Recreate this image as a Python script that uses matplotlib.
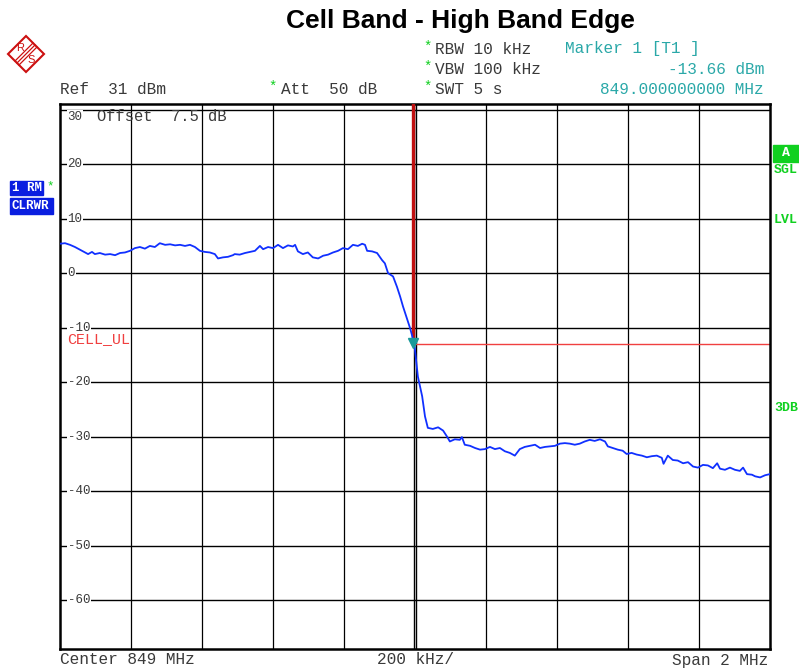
import numpy as np
import matplotlib.pyplot as plt
import matplotlib.patches as patches
from matplotlib.lines import Line2D

W, H = 799, 668

# sweep settings
center_mhz = 849.0
span_mhz = 2.0
ref_dbm = 31
range_db = 100
limit_dbm = -13.0
marker_mhz = 849.0
marker_dbm = -13.66

# trace: offset from start frequency (kHz) and level (dBm)
trace_khz = [0, 15, 29, 43, 57, 71, 80, 91, 99, 113, 128, 142, 156, 170, 184, 198,
             212, 226, 240, 254, 268, 282, 297, 311, 325, 339, 353, 367, 381, 395,
             409, 423, 437, 446, 460, 474, 488, 493, 507, 522, 536, 550, 564, 573,
             587, 601, 615, 629, 643, 657, 663, 671, 685, 699, 713, 728, 742, 756,
             770, 784, 798, 812, 826, 840, 852, 860, 866, 880, 894, 908, 916, 925,
             939, 950, 959, 967, 978, 987, 992, 1000, 1009, 1021, 1029, 1037, 1051,
             1066, 1080, 1091, 1099, 1113, 1127, 1133, 1141, 1156, 1170, 1184, 1198,
             1212, 1226, 1240, 1254, 1268, 1282, 1296, 1310, 1324, 1339, 1353, 1367,
             1381, 1395, 1409, 1423, 1437, 1451, 1465, 1479, 1493, 1507, 1522, 1536,
             1544, 1558, 1572, 1586, 1597, 1611, 1625, 1640, 1654, 1668, 1682, 1696,
             1701, 1713, 1727, 1741, 1756, 1770, 1784, 1798, 1812, 1826, 1840, 1852,
             1860, 1874, 1888, 1902, 1916, 1925, 1936, 1950, 1959, 1973, 1987, 2000]
trace_dbm = [5.4, 5.5, 5.2, 4.8, 4.3, 3.8, 3.5, 3.9, 3.5, 3.7, 3.4, 3.5, 3.3, 3.7,
             3.8, 4.1, 4.6, 4.8, 4.5, 5.0, 4.8, 5.5, 5.2, 5.3, 5.1, 5.2, 5.0, 5.2,
             4.8, 4.1, 3.9, 3.8, 3.5, 2.7, 2.9, 3.0, 3.3, 3.5, 3.4, 3.7, 3.9, 4.1,
             5.0, 4.4, 4.8, 4.6, 5.2, 4.6, 5.1, 4.9, 5.2, 4.0, 3.5, 3.8, 2.9, 2.7,
             3.2, 3.4, 3.8, 4.1, 4.6, 4.4, 5.2, 5.0, 5.4, 5.2, 4.1, 4.0, 3.7, 2.4,
             1.8, 0.0, -0.6, -2.5, -4.3, -6.1, -8.3, -10.1, -11.3, -13.66, -19.0,
             -22.6, -26.3, -28.4, -28.6, -28.3, -28.9, -30.0, -30.9, -30.5, -30.6,
             -30.1, -31.5, -31.7, -32.1, -32.4, -32.3, -31.9, -32.3, -32.1, -32.7,
             -33.0, -33.5, -32.3, -31.9, -31.7, -31.5, -32.1, -31.9, -31.8, -31.7,
             -31.3, -31.2, -31.3, -31.5, -31.3, -30.9, -30.6, -30.8, -30.5, -30.9,
             -31.8, -32.1, -32.4, -32.6, -33.2, -33.0, -33.3, -33.5, -33.8, -33.6,
             -33.5, -33.9, -35.0, -33.5, -34.3, -34.4, -34.9, -34.7, -35.5, -35.7,
             -35.2, -35.3, -35.8, -34.9, -35.9, -36.1, -35.7, -36.1, -36.3, -35.7,
             -36.9, -37.0, -37.3, -37.5, -37.1, -36.9]

ytick_vals = [30, 20, 10, 0, -10, -20, -30, -40, -50, -60]

f_start = center_mhz - span_mhz / 2
f_stop = center_mhz + span_mhz / 2
freq = f_start + np.array(trace_khz) / 1000.0

mono = "Liberation Mono"
teal = "#2aa8a8"
green = "#10d020"
grey = "#3a3a3a"
red = "#cc1010"


def px(x, y):
    return x / W, 1 - y / H


fig = plt.figure(figsize=(W / 100, H / 100), dpi=100)
fig.patch.set_facecolor("white")

l, r, t, b = 59.7, 769.7, 104.3, 649.0
ax = fig.add_axes([l / W, 1 - b / H, (r - l) / W, (b - t) / H])
ax.set_xlim(f_start, f_stop)
ax.set_ylim(ref_dbm - range_db, ref_dbm)
ax.set_xticks([])
ax.set_yticks([])
for s in ax.spines.values():
    s.set_linewidth(1.8)
    s.set_color("black")

# graticule
for v in ytick_vals:
    ax.axhline(v, color="black", lw=1.0, zorder=1)
for i in range(1, 10):
    f = f_start + i * span_mhz / 10
    if i == 5:
        ax.axvline(f - 0.002, color="black", lw=1.0, zorder=1)
        ax.axvline(f + 0.003, color="black", lw=1.0, zorder=1)
    else:
        ax.axvline(f, color="black", lw=0.9, zorder=1)

# level labels sit on the grid lines (top one just under it)
for v in ytick_vals:
    yv = v - 1.3 if v == 30 else v
    ax.text(f_start + 0.022, yv, "%d" % v, family=mono, fontsize=9, color=grey,
            va="center", ha="left", zorder=3,
            bbox=dict(facecolor="white", edgecolor="none", pad=0.4))
ax.text(f_start + 0.105, 28.7, "Offset  7.5 dB", family=mono, fontsize=11.2,
        color=grey, va="center", ha="left", zorder=3)

# limit line and marker
ax.plot([marker_mhz, f_stop], [limit_dbm, limit_dbm], color="#f04040", lw=1.0, zorder=2)
ax.text(f_start + 0.02, -12.1, "CELL_UL", family=mono, fontsize=10.8,
        color="#f04040", va="center", ha="left", zorder=3)
ax.plot([marker_mhz - 0.004, marker_mhz - 0.004], [ref_dbm, -12.4],
        color="#c01010", lw=2.4, zorder=4)

ax.plot(freq, trace_dbm, color="#1030ff", lw=1.3, zorder=5)
ax.plot([marker_mhz - 0.004], [marker_dbm + 0.9], marker="v", color="#1a9a9a",
        markersize=7, zorder=6)

# title
fig.text(*px(460, 21), "Cell Band - High Band Edge", family="Liberation Sans",
         fontweight="bold", fontsize=19, ha="center", va="center")

# header settings
hdr = dict(family=mono, fontsize=11.6, va="center", ha="left", color=grey)
fig.text(*px(60, 89), "Ref  31 dBm", **hdr)
fig.text(*px(281, 89), "Att  50 dB", **hdr)
fig.text(*px(435, 49), "RBW 10 kHz", **hdr)
fig.text(*px(435, 69), "VBW 100 kHz", **hdr)
fig.text(*px(435, 89), "SWT 5 s", **hdr)
for xs, ys in [(273, 87), (428, 47), (428, 67), (428, 87)]:
    fig.text(*px(xs, ys), "*", family=mono, fontsize=10, color=green,
             va="center", ha="center")
fig.text(*px(565, 49), "Marker 1 [T1 ]", family=mono, fontsize=11.6, color=teal,
         va="center", ha="left")
fig.text(*px(764, 69), "%.2f dBm" % marker_dbm, family=mono, fontsize=11.6,
         color=teal, va="center", ha="right")
fig.text(*px(764, 89), "%.9f MHz" % marker_mhz, family=mono, fontsize=11.6,
         color=teal, va="center", ha="right")

# footer
fig.text(*px(60, 660), "Center %d MHz" % center_mhz, **hdr)
fig.text(*px(377, 660), "%d kHz/" % (span_mhz * 1000 / 10), **hdr)
fig.text(*px(768, 660), "Span %d MHz" % span_mhz,
         **{**hdr, "ha": "right"})

# trace info boxes on the left
blue = "#0a1ee0"
fig.patches.append(patches.Rectangle(px(10, 195), 33 / W, 14 / H, color=blue,
                                     transform=fig.transFigure))
fig.patches.append(patches.Rectangle(px(10, 214), 43 / W, 16 / H, color=blue,
                                     transform=fig.transFigure))
fig.text(*px(12, 188), "1 RM", family=mono, fontsize=9, fontweight="bold",
         color="white", va="center", ha="left")
fig.text(*px(50, 186), "*", family=mono, fontsize=9, color=green, va="center", ha="center")
fig.text(*px(11, 206), "CLRWR", family=mono, fontsize=9, fontweight="bold",
         color="white", va="center", ha="left")

# status flags on the right
fig.patches.append(patches.Rectangle(px(773, 162), 26 / W, 17 / H, color=green,
                                     transform=fig.transFigure))
fig.text(*px(786, 153), "A", family=mono, fontsize=9.5, fontweight="bold",
         color="white", va="center", ha="center")
for yy, s in [(170, "SGL"), (220, "LVL"), (408, "3DB")]:
    fig.text(*px(774, yy), s, family=mono, fontsize=9.5, fontweight="bold",
             color=green, va="center", ha="left")

# logo
cx, cy, d = 26, 54, 18
diamond = patches.Polygon([px(cx - d, cy), px(cx, cy - d), px(cx + d, cy), px(cx, cy + d)],
                          closed=True, fill=False, edgecolor=red, lw=1.5,
                          transform=fig.transFigure)
fig.patches.append(diamond)
for o in (-2, 0, 2):
    fig.lines.append(Line2D([(cx - 9 + o) / W, (cx + 9 + o) / W],
                            [1 - (cy + 9 + o) / H, 1 - (cy - 9 + o) / H],
                            color=red, lw=0.9, transform=fig.transFigure))
fig.text(*px(cx - 6, cy - 6), "R", family="Liberation Sans", fontsize=8,
         color=red, ha="center", va="center")
fig.text(*px(cx + 5, cy + 6), "S", family="Liberation Sans", fontsize=8,
         color=red, ha="center", va="center")

fig.savefig("out.png", dpi=100)
